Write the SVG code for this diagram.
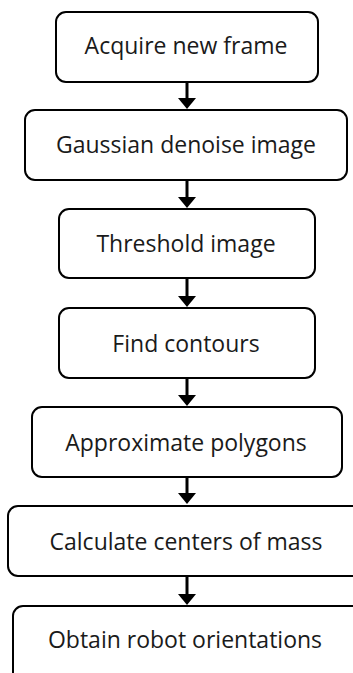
<svg xmlns="http://www.w3.org/2000/svg" width="353" height="673" viewBox="0 0 353 673">
  <style>
    .box { fill: #ffffff; stroke: #000000; stroke-width: 2; }
    .label { font-family: "Open Sans", "Liberation Sans", sans-serif; font-size: 23px; fill: #1a1a1a; text-anchor: middle; }
    .link { stroke: #000000; stroke-width: 3; fill: none; }
    .head { fill: #000000; }
  </style>
  <rect width="353" height="673" fill="#ffffff"/>

  <!-- connectors: stem plus filled head, tip resting on the next step -->
  <g id="connectors">
    <g>
      <line class="link" x1="187" y1="82" x2="187" y2="99"/>
      <polygon class="head" points="178,98 196,98 187,109"/>
    </g>
    <g>
      <line class="link" x1="187" y1="180" x2="187" y2="198"/>
      <polygon class="head" points="178,197 196,197 187,208"/>
    </g>
    <g>
      <line class="link" x1="187" y1="278" x2="187" y2="297"/>
      <polygon class="head" points="178,296 196,296 187,307"/>
    </g>
    <g>
      <line class="link" x1="187" y1="378" x2="187" y2="396"/>
      <polygon class="head" points="178,395 196,395 187,406"/>
    </g>
    <g>
      <line class="link" x1="187" y1="477" x2="187" y2="494"/>
      <polygon class="head" points="178,493 196,493 187,504"/>
    </g>
    <g>
      <line class="link" x1="187" y1="576" x2="187" y2="595"/>
      <polygon class="head" points="178,594 196,594 187,605"/>
    </g>
  </g>

  <!-- processing steps -->
  <g id="acquire">
    <rect class="box" x="56" y="12" width="262" height="70" rx="10"/>
    <text class="label" x="186" y="54">Acquire new frame</text>
  </g>
  <g id="denoise">
    <rect class="box" x="25" y="110" width="322" height="70" rx="10"/>
    <text class="label" x="186" y="153">Gaussian denoise image</text>
  </g>
  <g id="threshold">
    <rect class="box" x="59" y="209" width="256" height="69" rx="10"/>
    <text class="label" x="186" y="252">Threshold image</text>
  </g>
  <g id="contours">
    <rect class="box" x="59" y="308" width="256" height="70" rx="10"/>
    <text class="label" x="186" y="352">Find contours</text>
  </g>
  <g id="polygons">
    <rect class="box" x="32" y="407" width="310" height="70" rx="10"/>
    <text class="label" x="186" y="451">Approximate polygons</text>
  </g>
  <g id="centers">
    <rect class="box" x="8" y="506" width="360" height="70" rx="10"/>
    <text class="label" x="186" y="550">Calculate centers of mass</text>
  </g>
  <g id="orientations">
    <rect class="box" x="13" y="606" width="360" height="80" rx="10"/>
    <text class="label" x="185" y="648">Obtain robot orientations</text>
  </g>
</svg>
